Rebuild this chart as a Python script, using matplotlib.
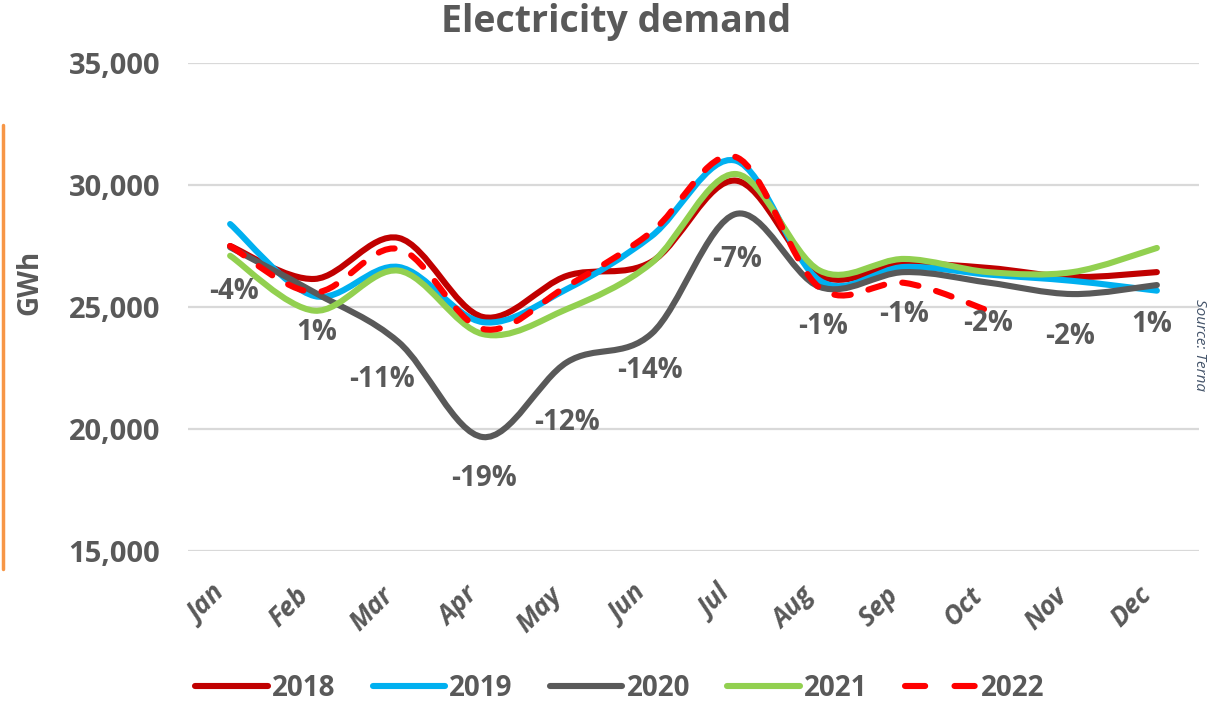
import matplotlib
matplotlib.use("Agg")
import matplotlib.pyplot as plt
from matplotlib.path import Path
from matplotlib.patches import PathPatch
from matplotlib.lines import Line2D
import numpy as np

months = ["Jan", "Feb", "Mar", "Apr", "May", "Jun", "Jul", "Aug", "Sep", "Oct", "Nov", "Dec"]
years = ["2018", "2019", "2020", "2021", "2022"]

d2018 = [27500, 26150, 27830, 24590, 26280, 26850, 30180, 26290, 26760, 26600, 26230, 26430]
d2019 = [28400, 25450, 26640, 24380, 25740, 27900, 31000, 26080, 26640, 26330, 26070, 25670]
d2020 = [27450, 25600, 23560, 19670, 22740, 23900, 28810, 25820, 26430, 26000, 25530, 25900]
d2021 = [27100, 24850, 26490, 23890, 24920, 26800, 30450, 26490, 26970, 26430, 26430, 27420]
d2022 = [27500, 25600, 27380, 24100, 25860, 28070, 31150, 25780, 25990, 24850]

pct_labels = ["-4%", "1%", "-11%", "-19%", "-12%", "-14%", "-7%", "-1%", "-1%", "-2%", "-2%", "1%"]

yticks = [15000, 20000, 25000, 30000, 35000]

# label offsets in pixels relative to 2020 value (style/position only)
lab_dx = [4, 2, -17, 1, 0, -1, 1, 3, 0, 0, -3, -5]
lab_dy = [-44, -40, -37, -41, -60, -37, -45, -40, -42, -41, -42, -39]

colors = ["#C00000", "#00B0F0", "#595959", "#92D050", "#FF0000"]
series = [d2018, d2019, d2020, d2021, d2022]
zorders = [3, 4, 5, 6, 7]

TXT = "#595959"
FONT = ["Open Sans", "DejaVu Sans"]
plt.rcParams["font.family"] = FONT

W, H = 1209, 702
fig = plt.figure(figsize=(W / 100, H / 100), dpi=100)
ax = fig.add_axes([188 / W, 1 - 551 / H, (1199 - 188) / W, (551 - 63) / H])


def smooth_path(xs, ys):
    pts = np.column_stack([xs, ys]).astype(float)
    n = len(pts)
    verts = [pts[0]]
    codes = [Path.MOVETO]
    for i in range(n - 1):
        p0 = pts[i - 1] if i > 0 else pts[i]
        p1 = pts[i]
        p2 = pts[i + 1]
        p3 = pts[i + 2] if i + 2 < n else pts[i + 1]
        c1 = p1 + (p2 - p0) / 6.0
        c2 = p2 - (p3 - p1) / 6.0
        verts += [c1, c2, p2]
        codes += [Path.CURVE4] * 3
    return Path(verts, codes)


LW = 4.4
for name, vals, col, z in zip(years, series, colors, zorders):
    xs = np.arange(len(vals))
    path = smooth_path(xs, vals)
    if name == "2022":
        patch = PathPatch(path, fill=False, edgecolor=col, linewidth=LW,
                          linestyle=(0, (2.7, 3.0)), zorder=z)
    else:
        patch = PathPatch(path, fill=False, edgecolor=col, linewidth=LW, zorder=z)
    patch.set_capstyle("round")
    patch.set_joinstyle("round")
    ax.add_patch(patch)

for i, lab in enumerate(pct_labels):
    ax.annotate(lab, (i, d2020[i]), xytext=(lab_dx[i], lab_dy[i]),
                textcoords="offset pixels", ha="center", va="center",
                fontsize=20, fontweight="bold", color=TXT, zorder=10)

ax.set_xlim(-0.5, len(months) - 0.5)
ax.set_ylim(15000, 35000)
ax.set_yticks(yticks)
ax.set_yticklabels([f"{v:,}" for v in yticks], fontsize=21, fontweight="bold", color=TXT)
ax.set_xticks(range(len(months)))
ax.set_xticklabels(months, rotation=45, ha="right", fontsize=19, fontweight="bold",
                   fontstyle="italic", color=TXT)
ax.tick_params(axis="both", length=0)
ax.tick_params(axis="y", pad=20)
ax.tick_params(axis="x", pad=22)
ax.grid(axis="y", color="#D9D9D9", linewidth=1.6)
ax.set_axisbelow(True)
for s in ax.spines.values():
    s.set_visible(False)

fig.text(616 / W, 1 - 22 / H, "Electricity demand", ha="center", va="center",
         fontsize=27, fontweight="bold", color=TXT)
fig.text(30 / W, 1 - 282 / H, "GWh", rotation=90, ha="center", va="center",
         fontsize=20, fontweight="bold", color=TXT)
fig.text(1199 / W, 1 - 345 / H, "Source: Terna", rotation=270, ha="center", va="center",
         fontsize=11, fontstyle="italic", color="#44546A")

# orange accent bar at left edge
fig.add_artist(Line2D([3 / W, 3 / W], [1 - 125 / H, 1 - 569 / H], transform=fig.transFigure,
                      color="#F79646", linewidth=2.5, solid_capstyle="round"))

handles = []
for name, col in zip(years, colors):
    if name == "2022":
        h = Line2D([], [], color=col, linewidth=LW, linestyle=(0, (3.3, 4.8)),
                   dash_capstyle="round")
    else:
        h = Line2D([], [], color=col, linewidth=LW, solid_capstyle="round")
    handles.append(h)
leg = fig.legend(handles, years, loc="center", bbox_to_anchor=(620 / W, 1 - 688 / H),
                 ncol=5, frameon=False, handlelength=2.6, handletextpad=0.15,
                 columnspacing=1.35, prop={"weight": "bold", "size": 20})
for t in leg.get_texts():
    t.set_color(TXT)

fig.savefig("out.png", dpi=100)
